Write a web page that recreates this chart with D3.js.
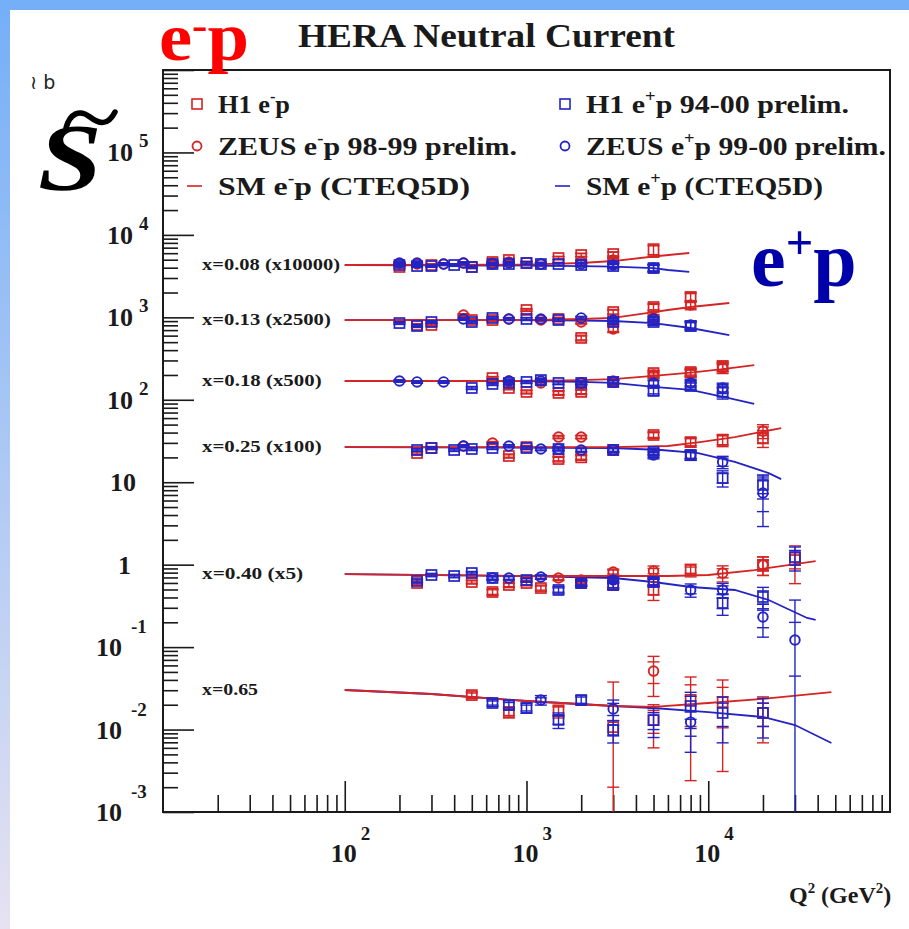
<!DOCTYPE html>
<html><head><meta charset="utf-8">
<script src="https://cdn.jsdelivr.net/npm/d3@7"></script>
<style>body{margin:0;background:#fff}svg{display:block}</style>
</head><body><svg id="c" width="909" height="929"></svg>
<script>
// ---------------- DATA ----------------
const binLabels = ["x=0.08 (x10000)","x=0.13 (x2500)","x=0.18 (x500)","x=0.25 (x100)","x=0.40 (x5)","x=0.65"];
const binFactor = [10000,2500,500,100,5,1];
const xTickVals = [100,1000,10000];
const xTickExp = ["2","3","4"];
const yTickExp = [-3,-2,-1,0,1,2,3,4,5];

// [bin, Q2, sigma, statErr, totErr]
const H1em = [
 [0,200,.408,.008,.016],[0,300,.431,.008,.016],[0,500,.408,.010,.018],[0,650,.469,.012,.020],[0,800,.496,.013,.022],
 [0,1000,.456,.014,.022],[0,1500,.524,.018,.026],[0,2000,.570,.022,.030],[0,3000,.586,.030,.038],[0,5000,.656,.08,.12],
 [1,250,.323,.007,.013],[1,300,.323,.007,.013],[1,500,.371,.008,.015],[1,650,.371,.009,.016],[1,1000,.491,.012,.02],
 [1,1500,.382,.012,.02],[1,2000,.225,.012,.018],[1,3000,.464,.025,.035],[1,5000,.534,.04,.055],[1,8000,.705,.07,.10],
 [2,650,.367,.009,.016],[2,800,.278,.008,.014],[2,1000,.249,.008,.014],[2,1500,.242,.01,.016],[2,2000,.249,.012,.018],
 [2,3000,.329,.015,.022],[2,5000,.422,.025,.035],[2,8000,.434,.035,.05],[2,12000,.513,.05,.075],
 [3,250,.226,.006,.011],[3,300,.260,.006,.011],[3,800,.208,.007,.012],[3,1000,.267,.008,.013],[3,1500,.191,.009,.015],
 [3,2000,.200,.01,.016],[3,3000,.246,.012,.02],[3,5000,.374,.025,.035],[3,8000,.307,.03,.04],[3,12000,.325,.04,.055],[3,20000,.344,.05,.08],
 [4,250,.1198,.003,.006],[4,500,.1232,.004,.007],[4,650,.0932,.006,.009],[4,800,.1133,.005,.008],[4,1000,.1198,.006,.009],
 [4,1200,.1042,.006,.009],[4,2000,.1198,.007,.011],[4,3000,.1133,.008,.013],[4,5000,.0986,.012,.025],[4,8000,.1722,.015,.03],
 [4,20000,.198,.03,.05],[4,30000,.2277,.05,.11],
 [5,500,.0262,.0015,.0025],[5,800,.0163,.0015,.0025],[5,1500,.0168,.002,.003],[5,3000,.0107,.0087,.027],[5,5000,.0130,.004,.007],
 [5,8000,.0229,.012,.0205],[5,12000,.0215,.011,.0184],[5,20000,.0159,.005,.009]
];
const ZEUSem = [
 [0,200,.443,.008,.015],[0,250,.443,.008,.015],[0,350,.443,.008,.015],[0,450,.456,.009,.016],[0,650,.456,.010,.017],
 [0,800,.469,.011,.018],[0,1200,.443,.012,.02],[0,2000,.469,.018,.025],[0,3000,.496,.025,.033],
 [1,450,.427,.008,.015],[1,800,.382,.009,.016],[1,1200,.371,.01,.017],[1,2000,.351,.013,.02],[1,3000,.289,.02,.028],
 [1,5000,.393,.03,.04],[1,8000,.564,.05,.07],
 [2,800,.338,.008,.014],[2,1200,.320,.009,.015],[2,2000,.320,.011,.017],[2,3000,.338,.015,.022],[2,5000,.399,.025,.035],
 [2,8000,.422,.035,.05],[2,12000,.486,.05,.07],
 [3,450,.275,.006,.011],[3,650,.299,.007,.012],[3,1500,.353,.01,.016],[3,2000,.353,.012,.018],[3,20000,.418,.05,.08],
 [4,1500,.1378,.006,.01],[4,2000,.1303,.007,.011],[4,3000,.1629,.009,.014],[4,5000,.1675,.012,.025],[4,12000,.1584,.02,.035],[4,20000,.198,.03,.05],
 [5,5000,.0512,.015,.026]
];
const H1ep = [
 [0,200,.431,.008,.015],[0,250,.419,.008,.015],[0,300,.419,.008,.015],[0,400,.431,.009,.016],[0,500,.408,.009,.016],
 [0,650,.443,.010,.017],[0,800,.443,.011,.018],[0,1000,.456,.012,.019],[0,1200,.443,.012,.02],[0,1500,.443,.013,.02],
 [0,2000,.431,.015,.022],[0,3000,.419,.02,.03],[0,5000,.396,.035,.045],
 [1,200,.341,.007,.013],[1,250,.314,.007,.013],[1,300,.351,.007,.013],[1,500,.351,.008,.014],[1,650,.393,.009,.015],
 [1,1000,.382,.01,.016],[1,1500,.371,.011,.017],[1,3000,.351,.015,.022],[1,5000,.351,.025,.032],[1,8000,.314,.03,.04],
 [2,500,.278,.007,.012],[2,650,.311,.007,.013],[2,800,.320,.008,.013],[2,1000,.329,.008,.014],[2,1200,.347,.009,.015],
 [2,1500,.320,.009,.015],[2,2000,.320,.01,.016],[2,3000,.329,.012,.018],[2,5000,.256,.02,.03],[2,8000,.294,.025,.035],[2,12000,.249,.03,.045],
 [3,250,.246,.006,.010],[3,300,.260,.006,.010],[3,400,.246,.006,.010],[3,500,.253,.006,.011],[3,650,.260,.007,.011],
 [3,1000,.260,.007,.012],[3,1500,.253,.008,.013],[3,3000,.246,.01,.016],[3,5000,.233,.015,.022],[3,8000,.214,.02,.03],
 [3,12000,.1125,.015,.025],[3,20000,.0926,.02,.03],
 [4,250,.1267,.004,.007],[4,300,.1498,.004,.007],[4,400,.1457,.004,.007],[4,500,.1584,.004,.007],[4,650,.1378,.005,.008],
 [4,1000,.1303,.005,.008],[4,1500,.0986,.006,.01],[4,2000,.1198,.007,.011],[4,3000,.1133,.008,.012],[4,5000,.1232,.01,.015],
 [4,12000,.0686,.01,.02],[4,20000,.0811,.015,.025],[4,30000,.2475,.05,.08],
 [5,650,.0210,.0012,.002],[5,800,.0198,.0015,.0025],[5,1000,.0183,.0015,.0025],[5,1500,.0131,.0015,.0028],[5,2000,.0228,.002,.003],
 [5,3000,.00987,.0015,.003],[5,5000,.0130,.003,.005],[5,8000,.0193,.006,.009],[5,12000,.0159,.005,.009],[5,20000,.0159,.005,.008]
];
const ZEUSep = [
 [0,200,.456,.008,.015],[0,250,.456,.008,.015],[0,350,.443,.008,.015],[0,450,.456,.009,.016],[0,650,.443,.010,.017],
 [0,800,.456,.011,.018],[0,1200,.443,.012,.02],[0,2000,.443,.015,.022],[0,3000,.431,.02,.028],[0,5000,.396,.03,.04],
 [1,450,.382,.008,.014],[1,800,.382,.009,.015],[1,1200,.382,.01,.016],[1,2000,.393,.012,.018],[1,3000,.371,.015,.022],
 [1,5000,.382,.02,.028],[1,8000,.323,.03,.04],
 [2,200,.338,.007,.012],[2,250,.329,.007,.012],[2,350,.329,.007,.012],[2,800,.338,.008,.013],[2,1200,.338,.009,.015],
 [2,2000,.320,.01,.016],[2,3000,.329,.012,.018],[2,5000,.320,.02,.028],[2,8000,.320,.025,.035],[2,12000,.278,.03,.04],
 [3,450,.275,.006,.010],[3,800,.275,.006,.011],[3,1200,.253,.007,.012],[3,1500,.253,.008,.013],[3,2000,.246,.009,.014],
 [3,3000,.246,.01,.016],[3,5000,.214,.015,.022],[3,8000,.214,.02,.028],[3,12000,.176,.02,.03],[3,20000,.074,.03,.045],
 [4,650,.1378,.005,.008],[4,800,.1378,.005,.008],[4,1200,.1417,.006,.009],[4,2000,.1198,.007,.011],[4,3000,.1303,.008,.012],
 [4,5000,.1232,.01,.015],[4,8000,.0986,.01,.018],[4,12000,.0986,.012,.02],[4,20000,.0464,.012,.02],[4,30000,.0244,.0155,.05],
 [5,1200,.0228,.0015,.003],[5,3000,.0178,.003,.005],[5,8000,.0123,.004,.007]
];
// Standard Model curves per bin: [Q2, sigma]
const smEm = [
 [[100,.431],[1000,.437],[2000,.456],[3000,.482],[5000,.547],[7860,.603]],
 [[100,.371],[1000,.371],[2000,.382],[3000,.393],[5000,.464],[6000,.491],[8000,.534],[13050,.597]],
 [[100,.338],[1000,.338],[2000,.347],[3000,.357],[5000,.389],[8000,.428],[12000,.470],[17900,.528]],
 [[100,.267],[3000,.267],[6000,.275],[9000,.307],[14000,.353],[25200,.454]],
 [[100,.154],[1000,.1457],[3000,.1457],[6000,.1457],[10000,.1498],[18000,.1722],[39000,.2214]],
 [[100,.0302],[300,.0270],[1000,.0222],[3000,.0193],[5000,.0188],[10000,.0210],[20000,.0235],[47600,.0285]]
];
const smEp = [
 [[100,.431],[1000,.425],[2000,.419],[3000,.413],[5000,.396],[6000,.375],[7860,.355]],
 [[100,.371],[1000,.371],[2000,.366],[3000,.361],[5000,.341],[8000,.297],[13050,.244]],
 [[100,.338],[1000,.338],[2000,.329],[3000,.320],[5000,.286],[8000,.263],[13000,.210],[17900,.178]],
 [[100,.267],[3000,.260],[5500,.246],[8800,.226],[14000,.176],[21500,.129],[25200,.109]],
 [[100,.154],[1000,.1457],[3000,.1378],[5000,.1232],[8000,.1072],[14000,.0986],[21500,.0746],[35000,.0451],[39000,.0427]],
 [[100,.0302],[300,.0270],[1000,.0222],[3000,.0193],[5000,.01825],[10000,.0163],[20000,.0142],[30000,.01135],[47600,.00687]]
];

// ---------------- DRAW ----------------
const RED = "#d42424", BLUE = "#2424c4", INK = "#1a1a1a";
const SERIF = "'Liberation Serif','DejaVu Serif',serif";
const X0 = 163, X1 = 890, Y0 = 812, Y1 = 70;
const x = d3.scaleLog().domain([10, 1e5]).range([X0, X1]);
const y = d3.scaleLog().domain([1e-3, 1e6]).range([Y0, Y1]);

const svg = d3.select("#c");
const defs = svg.append("defs");
const lg = defs.append("linearGradient").attr("id", "lg").attr("x1", 0).attr("y1", 0).attr("x2", 0).attr("y2", 1);
lg.append("stop").attr("offset", "0%").attr("stop-color", "#74aff7");
lg.append("stop").attr("offset", "100%").attr("stop-color", "#e6e2f1");
defs.append("clipPath").attr("id", "clip").append("rect")
  .attr("x", X0).attr("y", Y1).attr("width", X1 - X0).attr("height", Y0 - Y1);

svg.append("rect").attr("width", 909).attr("height", 929).attr("fill", "#fff");
svg.append("rect").attr("x", 0).attr("y", 0).attr("width", 10).attr("height", 929).attr("fill", "url(#lg)");
svg.append("rect").attr("x", 0).attr("y", 0).attr("width", 909).attr("height", 10).attr("fill", "#74aff7");

// axes ticks
function tickAxis(axis, tr) {
  const g = svg.append("g").attr("transform", tr).call(axis);
  g.select(".domain").remove();
  g.selectAll(".tick line").attr("stroke", INK).attr("stroke-width", 1.6);
  g.selectAll(".tick text").remove();
  return g;
}
const isPow10 = v => Math.abs(Math.log10(v) - Math.round(Math.log10(v))) < 1e-6;
const yAll = y.ticks();
tickAxis(d3.axisRight(y).tickValues(yAll.filter(v => !isPow10(v))).tickSize(15), `translate(${X0},0)`);
tickAxis(d3.axisRight(y).tickValues(yAll.filter(isPow10)).tickSize(31), `translate(${X0},0)`);
const xAll = x.ticks();
tickAxis(d3.axisTop(x).tickValues(xAll.filter(v => !isPow10(v))).tickSize(17), `translate(0,${Y0})`);
tickAxis(d3.axisTop(x).tickValues(xTickVals).tickSize(31), `translate(0,${Y0})`);

// frame
svg.append("rect").attr("x", X0).attr("y", Y1).attr("width", X1 - X0).attr("height", Y0 - Y1)
  .attr("fill", "none").attr("stroke", INK).attr("stroke-width", 2);

// y labels
const lab = svg.append("g").attr("font-family", SERIF).attr("font-weight", "bold").attr("fill", INK);
yTickExp.forEach(e => {
  const yy = y(Math.pow(10, e));
  if (e === 0) {
    lab.append("text").attr("x", 131).attr("y", yy + 9).attr("text-anchor", "end").attr("font-size", 26).text("1");
  } else if (e === 1) {
    lab.append("text").attr("x", 136).attr("y", yy + 9).attr("text-anchor", "end").attr("font-size", 26).text("10");
  } else if (e > 1) {
    lab.append("text").attr("x", 133).attr("y", yy + 9).attr("text-anchor", "end").attr("font-size", 26).text("10");
    lab.append("text").attr("x", 139).attr("y", yy - 5).attr("font-size", 19).text(String(e));
  } else {
    lab.append("text").attr("x", 122).attr("y", yy + 9).attr("text-anchor", "end").attr("font-size", 26).text("10");
    lab.append("text").attr("x", 131).attr("y", yy - 14).attr("font-size", 19).text(String(e));
  }
});
// x labels
xTickVals.forEach((v, i) => {
  const xx = x(v);
  lab.append("text").attr("x", xx - 1).attr("y", 862).attr("text-anchor", "middle").attr("font-size", 26).text("10");
  lab.append("text").attr("x", xx + 16).attr("y", 840).attr("font-size", 19).text(xTickExp[i]);
});

// rich text helper
function rich(g, xx, yb, size, parts, attrs = {}, supShift = 0.42) {
  const t = g.append("text").attr("x", xx).attr("y", yb).attr("font-size", size);
  Object.entries(attrs).forEach(([k, v]) => t.attr(k, v));
  let cur = 0;
  parts.forEach(p => {
    const sup = Array.isArray(p);
    const s = sup ? p[0] : p;
    const target = sup ? -size * supShift : 0;
    const ts = t.append("tspan").attr("dy", target - cur).text(s);
    if (sup) ts.attr("font-size", size * 0.62);
    cur = target;
  });
  return t;
}
rich(lab, 789, 903, 24, ["Q", ["2"], " (GeV", ["2"], ")"]);

// title & big labels
lab.append("text").attr("x", 298).attr("y", 47).attr("font-size", 33)
  .attr("textLength", 377).attr("lengthAdjust", "spacingAndGlyphs").text("HERA Neutral Current");
rich(svg, 159, 60, 67, ["e", ["-"], "p"], {fill: "#ff0000", "font-family": SERIF, "font-weight": "bold",
  textLength: 90, lengthAdjust: "spacingAndGlyphs"}, 0.32);
rich(svg, 751, 286, 78, ["e", ["+"], "p"], {fill: "#0000aa", "font-family": SERIF, "font-weight": "bold"}, 0.34);
// S with tilde accent
svg.append("text").attr("x", 38).attr("y", 190).attr("font-family", SERIF).attr("font-weight", "bold")
  .attr("font-style", "italic").attr("font-size", 96).attr("fill", "#000")
  .attr("textLength", 64).attr("lengthAdjust", "spacingAndGlyphs").text("S");
svg.append("path").attr("d", "M66,128 C70,113 80,109 90,117 C99,124 108,126 115,112")
  .attr("fill", "none").attr("stroke", "#000").attr("stroke-width", 5.5).attr("stroke-linecap", "round");
svg.append("text").attr("x", 30).attr("y", 89).attr("font-family", "'DejaVu Sans',sans-serif")
  .attr("font-size", 19).attr("fill", "#222").text("≀ b");

// plot
const plot = svg.append("g").attr("clip-path", "url(#clip)");
const line = d3.line().x(d => x(d[0])).y(d => y(d[1]));
smEp.forEach((c, b) => plot.append("path").attr("d", line(c.map(d => [d[0], d[1] * binFactor[b]])))
  .attr("fill", "none").attr("stroke", BLUE).attr("stroke-width", 1.8));
smEm.forEach((c, b) => plot.append("path").attr("d", line(c.map(d => [d[0], d[1] * binFactor[b]])))
  .attr("fill", "none").attr("stroke", RED).attr("stroke-width", 1.8));

function drawSeries(data, color, shape) {
  const g = plot.append("g").attr("stroke", color).attr("fill", "none");
  data.forEach(([b, q, v, s, t]) => {
    const f = binFactor[b];
    const cx = x(q), cy = y(v * f);
    const lo = v - t > 0 ? y((v - t) * f) : Y0 + 5;
    const hi = y((v + t) * f);
    g.append("line").attr("x1", cx).attr("x2", cx).attr("y1", hi).attr("y2", lo).attr("stroke-width", 1.4);
    [v + s, v - s, v + t, v - t].forEach(e => {
      if (e > 0) g.append("line").attr("x1", cx - 6).attr("x2", cx + 6).attr("y1", y(e * f)).attr("y2", y(e * f)).attr("stroke-width", 1.4);
    });
    if (shape === "sq") g.append("rect").attr("x", cx - 5).attr("y", cy - 5).attr("width", 10).attr("height", 10).attr("stroke-width", 1.7);
    else g.append("circle").attr("cx", cx).attr("cy", cy).attr("r", 4.8).attr("stroke-width", 1.9);
  });
}
drawSeries(H1em, RED, "sq");
drawSeries(ZEUSem, RED, "ci");
drawSeries(H1ep, BLUE, "sq");
drawSeries(ZEUSep, BLUE, "ci");

// bin labels
binLabels.forEach((l, b) => {
  const yy = y(smEm[b][0][1] * binFactor[b]);
  lab.append("text").attr("x", 202).attr("y", yy + 5).attr("font-size", 16)
    .attr("textLength", l.length > 8 ? (l.length * 9.2) : 56).attr("lengthAdjust", "spacingAndGlyphs").text(l);
});

// legend
const leg = svg.append("g").attr("font-family", SERIF).attr("font-weight", "bold").attr("fill", INK);
function legItem(xm, ym, color, shape, parts, tl) {
  if (shape === "sq") leg.append("rect").attr("x", xm - 5).attr("y", ym - 5).attr("width", 10).attr("height", 10)
    .attr("fill", "none").attr("stroke", color).attr("stroke-width", 1.6);
  else if (shape === "ci") leg.append("circle").attr("cx", xm).attr("cy", ym).attr("r", 4.5)
    .attr("fill", "none").attr("stroke", color).attr("stroke-width", 1.8);
  else leg.append("line").attr("x1", xm - 10).attr("x2", xm + 5).attr("y1", ym).attr("y2", ym)
    .attr("stroke", color).attr("stroke-width", 1.6);
  rich(leg, xm + 21, ym + 9, 26, parts, {textLength: tl, lengthAdjust: "spacingAndGlyphs"});
}
legItem(197, 104, RED, "sq", ["H1 e", ["-"], "p"], 72);
legItem(197, 146, RED, "ci", ["ZEUS e", ["-"], "p 98-99 prelim."], 299);
legItem(197, 186, RED, "ln", ["SM e", ["-"], "p (CTEQ5D)"], 252);
legItem(565, 104, BLUE, "sq", ["H1 e", ["+"], "p 94-00 prelim."], 263);
legItem(565, 146, BLUE, "ci", ["ZEUS e", ["+"], "p 99-00 prelim."], 300);
legItem(565, 186, BLUE, "ln", ["SM e", ["+"], "p (CTEQ5D)"], 237);
</script></body></html>
